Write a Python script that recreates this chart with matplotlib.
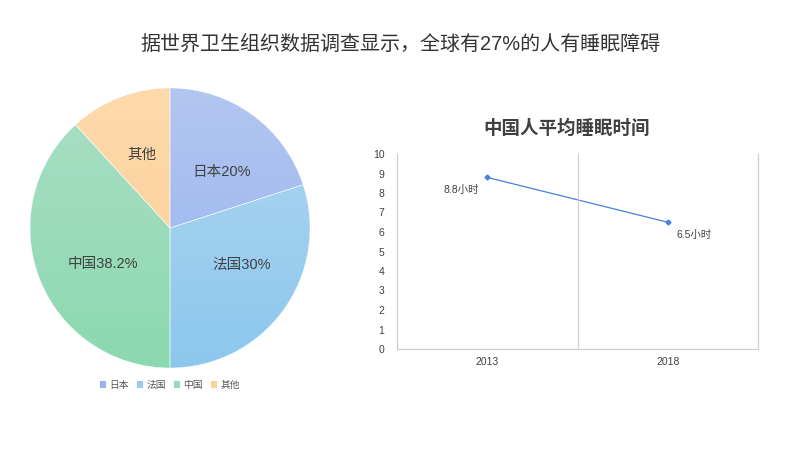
import numpy as np
import matplotlib
matplotlib.use("Agg")
import matplotlib.pyplot as plt
from matplotlib.patches import Patch
from matplotlib.colors import LinearSegmentedColormap

plt.rcParams['font.family'] = ['Liberation Sans', 'Noto Sans CJK SC', 'DejaVu Sans']

# data
title = "据世界卫生组织数据调查显示，全球有27%的人有睡眠障碍"
pie_labels = ["日本", "法国", "中国", "其他"]
pie_values = [20, 30, 38.2, 11.8]
pie_texts = ["日本20%", "法国30%", "中国38.2%", "其他"]
line_title = "中国人平均睡眠时间"
years = ["2013", "2018"]
hours = [8.8, 6.5]

# gradient colours per slice (top, bottom)
grad = [("#b2c6f1", "#95b2ee"), ("#b0d8f0", "#8cc7ee"),
        ("#aadfc6", "#8cd8b0"), ("#fed9ab", "#fdcf98")]
legend_colors = ["#97b3ee", "#97caee", "#97d9b6", "#fdd09c"]
text_color = "#404040"

fig = plt.figure(figsize=(8, 4.5), dpi=100)
fig.text(0.5, 1 - 44 / 450, title, ha='center', va='center', fontsize=14.4, color="#333333")

# pie
axp = fig.add_axes([30 / 800, (450 - 368) / 450, 280 / 800, 280 / 450])
wedges, _ = axp.pie(pie_values, startangle=90, counterclock=False, radius=1,
                    wedgeprops=dict(linewidth=0.3, edgecolor='white'))
for w, (c1, c2) in zip(wedges, grad):
    cmap = LinearSegmentedColormap.from_list("g", [c2, c1])
    g = np.linspace(0, 1, 256).reshape(-1, 1)
    im = axp.imshow(g, cmap=cmap, extent=[-1, 1, -1, 1], origin='lower',
                    aspect='auto', zorder=1)
    im.set_clip_path(w)
    w.set_zorder(2)
    w.set_facecolor('none')
axp.set_xlim(-1, 1)
axp.set_ylim(-1, 1)
axp.set_aspect('equal')
axp.axis('off')

label_pos = [(0.37, 0.40), (0.51, -0.26), (-0.48, -0.26), (-0.2, 0.52)]
for t, (x, y) in zip(pie_texts, label_pos):
    axp.text(x, y, t, ha='center', va='center', fontsize=10.5, color=text_color, zorder=3)

handles = [Patch(facecolor=c, edgecolor='none') for c in legend_colors]
fig.legend(handles, pie_labels, loc='center', bbox_to_anchor=(170 / 800, 1 - 385 / 450),
           ncol=4, frameon=False, fontsize=7, handlelength=0.6, handleheight=0.6,
           handletextpad=0.3, columnspacing=0.9, labelcolor="#555555")

# line chart
axl = fig.add_axes([397 / 800, (450 - 349) / 450, 361 / 800, 195 / 450])
xpos = np.arange(len(years)) + 0.5
axl.plot(xpos, hours, color="#4a7fe0", lw=0.9, marker='D', ms=2.5)
axl.set_xlim(0, len(years))
axl.set_ylim(0, 10)
axl.set_yticks(range(0, 11))
axl.set_xticks(xpos)
axl.set_xticklabels(years)
axl.tick_params(axis='both', length=0, labelsize=7.5, colors="#404040", pad=6)
axl.tick_params(axis='y', pad=9)
axl.spines['top'].set_visible(False)
for s in ['left', 'right', 'bottom']:
    axl.spines[s].set_color("#d0d0d0")
    axl.spines[s].set_linewidth(0.9)
for xg in range(1, len(years)):
    axl.axvline(xg, color="#d0d0d0", lw=0.9)
axl.annotate(f"{hours[0]}小时", (xpos[0], hours[0]), xytext=(-19, -9),
             textcoords='offset points', ha='center', va='center', fontsize=7.5, color=text_color)
axl.annotate(f"{hours[1]}小时", (xpos[1], hours[1]), xytext=(19, -9),
             textcoords='offset points', ha='center', va='center', fontsize=7.5, color=text_color)
fig.text(567 / 800, 1 - 129 / 450, line_title, ha='center', va='center',
         fontsize=13.3, fontweight='bold', color=text_color)

fig.savefig("out.png", dpi=100)
